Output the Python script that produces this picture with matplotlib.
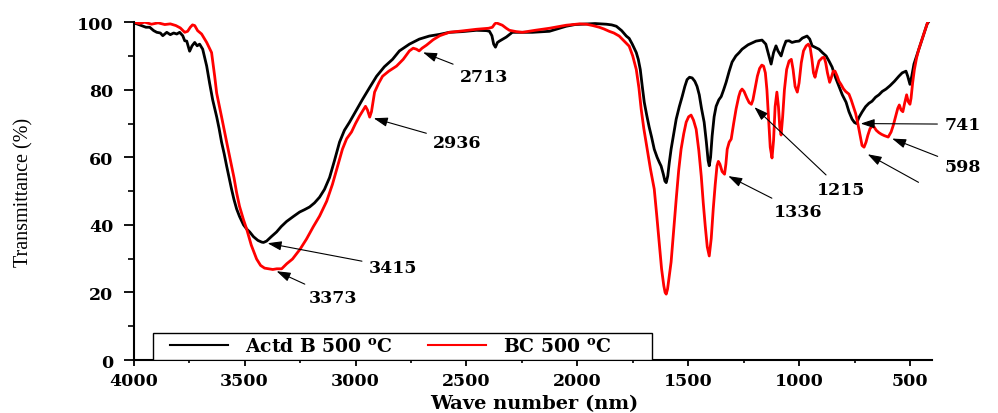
import numpy as np
import matplotlib.pyplot as plt
from matplotlib.patches import Rectangle
from matplotlib.ticker import MultipleLocator

# FTIR spectra: (wave number, transmittance %)
actd_spectrum = [
    (4000, 99.8), (3986, 99.5), (3965, 99.0), (3945, 98.5), (3928, 98.5), (3910, 97.5),
    (3896, 97.0), (3880, 96.8), (3869, 96.0), (3851, 97.0), (3835, 96.3), (3820, 96.8),
    (3806, 96.5), (3793, 97.0), (3779, 96.0), (3770, 94.5), (3761, 94.4), (3748, 91.4),
    (3737, 93.0), (3725, 94.0), (3714, 93.0), (3703, 93.5), (3689, 92.0), (3680, 89.5),
    (3671, 87.0), (3658, 82.0), (3644, 77.0), (3626, 72.0), (3615, 68.5), (3604, 64.5),
    (3592, 61.0), (3581, 57.4), (3570, 54.0), (3559, 50.6), (3548, 47.5), (3536, 44.7),
    (3523, 42.5), (3505, 40.0), (3491, 38.8), (3477, 37.9), (3460, 36.5), (3440, 35.4),
    (3423, 34.9), (3415, 34.8), (3401, 35.2), (3380, 36.5), (3356, 37.9), (3335, 39.5),
    (3311, 41.0), (3280, 42.5), (3252, 43.8), (3230, 44.5), (3207, 45.3), (3185, 46.5),
    (3162, 48.2), (3140, 50.5), (3117, 54.0), (3095, 59.0), (3072, 64.5), (3050, 68.0),
    (3027, 70.4), (3000, 73.5), (2968, 77.2), (2935, 80.8), (2905, 84.0), (2870, 86.8),
    (2833, 89.0), (2802, 91.5), (2757, 93.5), (2712, 95.0), (2667, 95.9), (2620, 96.4),
    (2577, 97.0), (2520, 97.2), (2455, 97.6), (2410, 97.5), (2396, 97.3), (2385, 96.0),
    (2377, 93.5), (2369, 92.6), (2360, 94.0), (2351, 94.4), (2335, 95.0), (2320, 95.6),
    (2293, 97.0), (2250, 97.0), (2203, 97.0), (2126, 97.3), (2090, 98.0), (2050, 98.8),
    (2010, 99.3), (1977, 99.4), (1920, 99.6), (1869, 99.4), (1845, 99.2), (1824, 98.8),
    (1800, 97.5), (1779, 95.9), (1766, 95.2), (1752, 93.5), (1734, 91.0), (1725, 89.0),
    (1716, 86.0), (1707, 81.0), (1698, 76.3), (1687, 72.5), (1676, 69.0), (1665, 66.0),
    (1653, 62.4), (1640, 60.0), (1630, 58.5), (1622, 57.4), (1612, 55.0), (1605, 53.0),
    (1599, 52.5), (1592, 54.5), (1585, 58.5), (1577, 62.4), (1565, 67.0), (1554, 71.3),
    (1540, 75.0), (1527, 78.0), (1515, 81.0), (1505, 83.0), (1494, 83.7), (1482, 83.5),
    (1470, 82.5), (1460, 81.0), (1450, 78.5), (1440, 74.5), (1428, 70.4), (1418, 64.5),
    (1410, 59.0), (1405, 57.5), (1399, 60.0), (1392, 66.3), (1383, 72.0), (1374, 75.1),
    (1362, 77.0), (1351, 78.0), (1340, 80.0), (1329, 82.2), (1315, 85.5), (1302, 88.2),
    (1285, 90.0), (1270, 91.0), (1257, 92.0), (1230, 93.3), (1194, 94.4), (1167, 94.7),
    (1150, 93.5), (1140, 91.0), (1126, 87.6), (1115, 91.0), (1104, 93.0), (1095, 91.5),
    (1081, 90.0), (1070, 92.5), (1059, 94.4), (1045, 94.5), (1032, 94.0), (1015, 94.3),
    (1000, 94.4), (985, 95.3), (964, 95.9), (952, 95.0), (941, 93.0), (925, 92.5),
    (910, 92.0), (895, 91.0), (878, 90.0), (865, 88.5), (851, 86.7), (835, 83.5),
    (820, 81.0), (805, 78.5), (788, 76.3), (775, 73.5), (761, 71.3), (750, 70.3),
    (741, 70.0), (730, 71.8), (716, 73.4), (700, 75.0), (685, 76.0), (671, 76.6),
    (655, 77.8), (640, 78.5), (625, 79.5), (608, 80.2), (590, 81.2), (570, 82.5),
    (550, 84.0), (535, 85.0), (518, 85.5), (510, 84.0), (500, 81.6), (492, 84.0),
    (482, 87.6), (470, 90.0), (460, 92.0), (445, 95.0), (432, 97.5), (423, 99.4),
    (412, 100.5),
]

bc_spectrum = [
    (4000, 100.0), (3975, 99.6), (3950, 100.0), (3920, 99.4), (3890, 99.8), (3860, 99.3),
    (3835, 99.5), (3810, 99.0), (3790, 98.3), (3770, 97.0), (3757, 97.3), (3745, 98.5),
    (3735, 99.2), (3725, 99.0), (3712, 97.5), (3694, 96.5), (3682, 95.2), (3671, 94.0),
    (3660, 92.5), (3649, 91.0), (3635, 84.0), (3626, 79.0), (3615, 75.5), (3604, 72.0),
    (3592, 68.0), (3581, 64.5), (3570, 61.0), (3559, 57.4), (3548, 54.0), (3536, 49.5),
    (3523, 45.5), (3505, 41.5), (3491, 38.8), (3470, 34.0), (3446, 29.9), (3428, 28.0),
    (3410, 27.2), (3390, 27.0), (3373, 26.8), (3355, 27.0), (3333, 27.0), (3310, 28.5),
    (3284, 29.9), (3250, 32.8), (3221, 35.8), (3190, 39.5), (3162, 42.6), (3130, 47.0),
    (3104, 52.0), (3080, 57.5), (3059, 62.4), (3040, 65.5), (3018, 67.5), (3000, 70.0),
    (2982, 72.2), (2965, 74.0), (2955, 75.1), (2946, 74.0), (2936, 71.9), (2928, 73.5),
    (2914, 79.3), (2895, 82.0), (2878, 84.0), (2850, 85.5), (2815, 87.0), (2785, 89.0),
    (2757, 91.5), (2740, 92.3), (2725, 92.0), (2713, 91.5), (2700, 92.3), (2680, 93.2),
    (2650, 94.8), (2620, 96.0), (2577, 97.0), (2520, 97.4), (2455, 97.9), (2400, 98.2),
    (2383, 98.5), (2372, 99.5), (2365, 99.8), (2350, 99.4), (2338, 99.1), (2320, 98.2),
    (2306, 97.6), (2275, 97.2), (2248, 97.0), (2190, 97.6), (2126, 98.2), (2050, 99.1),
    (1990, 99.5), (1959, 99.4), (1930, 99.0), (1901, 98.5), (1880, 98.0), (1856, 97.3),
    (1835, 96.8), (1811, 95.9), (1790, 94.5), (1766, 92.9), (1750, 90.0), (1734, 86.0),
    (1722, 80.5), (1712, 74.3), (1700, 68.5), (1685, 62.4), (1670, 56.5), (1653, 50.6),
    (1642, 43.0), (1631, 34.9), (1620, 27.0), (1610, 22.0), (1604, 20.0), (1599, 19.5),
    (1593, 21.0), (1585, 25.0), (1577, 29.0), (1566, 38.0), (1554, 47.6), (1543, 56.0),
    (1532, 62.4), (1520, 67.0), (1509, 70.4), (1498, 72.0), (1487, 72.5), (1476, 71.0),
    (1464, 68.3), (1452, 62.0), (1441, 54.4), (1432, 46.5), (1423, 39.6), (1414, 33.5),
    (1405, 30.8), (1396, 36.0), (1387, 44.7), (1378, 52.0), (1370, 57.5), (1364, 58.8),
    (1357, 58.0), (1347, 55.8), (1336, 55.0), (1330, 58.0), (1324, 62.4), (1315, 64.5),
    (1306, 65.4), (1295, 70.0), (1284, 74.3), (1272, 78.0), (1265, 79.5), (1257, 80.2),
    (1248, 79.5), (1235, 77.5), (1225, 76.2), (1215, 75.7), (1208, 77.0), (1198, 80.5),
    (1188, 84.0), (1178, 86.3), (1168, 87.3), (1160, 87.0), (1152, 85.0), (1145, 80.0),
    (1138, 72.0), (1130, 63.0), (1122, 59.8), (1115, 65.0), (1108, 75.0), (1100, 79.3),
    (1093, 75.0), (1087, 69.0), (1081, 66.6), (1074, 72.0), (1066, 80.0), (1056, 86.0),
    (1045, 88.5), (1035, 89.0), (1027, 86.0), (1018, 81.0), (1008, 79.3), (1000, 82.0),
    (990, 88.0), (980, 91.5), (968, 93.0), (958, 93.5), (950, 92.5), (942, 89.0),
    (935, 85.0), (928, 83.7), (920, 86.0), (910, 88.5), (895, 89.5), (887, 89.6),
    (880, 88.0), (872, 85.0), (862, 82.2), (855, 83.5), (846, 85.5), (838, 85.5),
    (828, 84.0), (820, 82.5), (811, 81.6), (800, 80.3), (790, 79.5), (775, 78.7),
    (765, 77.0), (755, 75.0), (745, 73.0), (735, 70.0), (725, 66.5), (716, 63.5),
    (707, 63.0), (698, 64.5), (690, 66.5), (680, 68.5), (670, 69.2), (662, 69.0),
    (652, 68.0), (640, 67.3), (628, 66.8), (615, 66.4), (598, 66.0), (585, 67.5),
    (575, 69.5), (565, 72.0), (555, 74.5), (548, 75.5), (540, 74.0), (532, 73.5),
    (524, 76.0), (515, 78.5), (508, 76.5), (500, 75.7), (495, 77.5), (488, 82.0),
    (480, 86.0), (470, 89.5), (460, 92.0), (450, 94.0), (440, 96.0), (430, 98.0),
    (420, 100.0), (412, 101.0),
]

series_names = [r'Actd B 500 $^{\mathbf{o}}$C', r'BC 500 $^{\mathbf{o}}$C']
series_colors = ['black', 'red']

# peak annotations: wave number, which spectrum (0 = Actd B, 1 = BC)
peak_wn = [3415, 3373, 2936, 2713, 1336, 1215, 741, 598]
peak_series = [0, 1, 1, 1, 1, 1, 0, 1]
peak_text = ['3415', '3373', '2936', '2713', '1336', '1215', '741', '598']
text_pos = [(2940, 27.5), (3210, 18.6), (2650, 64.5), (2530, 84), (1115, 44),
            (920, 50.6), (345, 69.8), (345, 57.4)]

plt.rcParams['font.family'] = 'DejaVu Serif'
plt.rcParams['font.weight'] = 'bold'
plt.rcParams['mathtext.fontset'] = 'dejavuserif'

fig = plt.figure(figsize=(9.98, 4.14), dpi=100)
ax = fig.add_axes([0.134, 0.128, 0.8, 0.816])

spectra = []
for data, name, color in zip([actd_spectrum, bc_spectrum], series_names, series_colors):
    wn, t = np.array(data).T
    spectra.append((wn, t))
    ax.plot(wn, t, color=color, lw=2, label=name)

ax.set_xlim(4000, 400)
ax.set_ylim(0, 100)
ax.xaxis.set_major_locator(MultipleLocator(500))
ax.xaxis.set_minor_locator(MultipleLocator(250))
ax.yaxis.set_major_locator(MultipleLocator(20))
ax.yaxis.set_minor_locator(MultipleLocator(10))

for side in ['top', 'right']:
    ax.spines[side].set_visible(False)
for side in ['left', 'bottom']:
    ax.spines[side].set_linewidth(1.5)

ax.tick_params(axis='x', which='major', direction='out', length=4.5, width=1.3, pad=4, labelsize=12.5)
ax.tick_params(axis='x', which='minor', direction='out', length=2.5, width=1.2)
ax.tick_params(axis='y', which='major', direction='out', length=7.5, width=1.3, pad=7, labelsize=12.5)
ax.tick_params(axis='y', which='minor', direction='out', length=4, width=1.2)

ax.set_xlabel('Wave number (nm)', fontsize=14, fontweight='bold')
ax.xaxis.set_label_coords(0.502, -0.1)
ax.set_ylabel('Transmittance (%)', fontsize=14.5, fontweight='normal', family='Liberation Serif')
ax.yaxis.set_label_coords(-0.125, 0.5)

arrow = dict(arrowstyle='-|>,head_length=0.6,head_width=0.2', color='black', lw=0.8,
             mutation_scale=14, shrinkA=3, shrinkB=3)

for wn0, s, label, pos in zip(peak_wn, peak_series, peak_text, text_pos):
    wn, t = spectra[s]
    tip = (wn0, np.interp(wn0, wn[::-1], t[::-1]))
    ax.annotate(label, xy=tip, xytext=pos, ha='left', va='center', fontsize=12.5,
                fontweight='bold', arrowprops=arrow, annotation_clip=False)

# second arrow towards the BC band next to 741
wn, t = spectra[1]
ax.annotate('', xy=(707, np.interp(707, wn[::-1], t[::-1]) - 1.5), xytext=(445, 52),
            arrowprops=arrow, annotation_clip=False)

# legend box sitting on the x axis, legend entries drawn inside it
ax.add_patch(Rectangle((0.024, 0.0), 0.625, 0.08, transform=ax.transAxes,
                       facecolor='white', edgecolor='black', lw=1.0, zorder=4))
leg = ax.legend(loc='center left', bbox_to_anchor=(0.045, 0.041), ncol=2, fontsize=13.5,
                frameon=False, borderaxespad=0, borderpad=0, handlelength=3.1,
                handletextpad=0.9, columnspacing=1.9)
leg.set_zorder(5)
for line in leg.get_lines():
    line.set_linewidth(1.5)

plt.savefig('out.png', dpi=100)
